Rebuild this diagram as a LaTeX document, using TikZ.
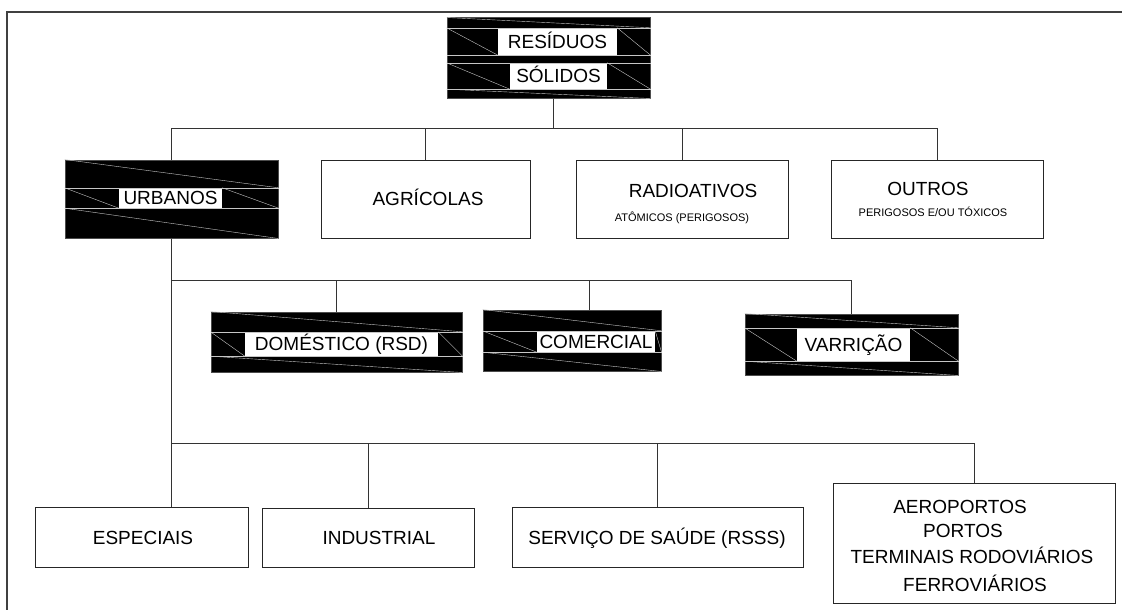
\documentclass[tikz,border=0pt]{standalone}
\usepackage{fontspec}
\setmainfont{Liberation Sans}
\newcommand\bandtex[2]{%
 \draw[tex] (#1.west |- #2.north) -- (#1.east |- #2.north);
 \draw[tex] (#1.west |- #2.south) -- (#1.east |- #2.south);
 \draw[tex] (#1.west |- #2.north) -- (#2.south west);
 \draw[tex] (#2.north east) -- (#1.east |- #2.south);}
\begin{document}
\begin{tikzpicture}[x=1pt,y=-1pt,
 box/.style={draw=black!85,line width=1pt,inner sep=0pt},
 blk/.style={draw=black!70,fill=black,line width=1pt,inner sep=0pt},
 lab/.style={fill=white,inner sep=0pt,text height=13.6pt,text depth=0pt,font=\fontsize{19}{22}\selectfont},
 txt/.style={inner sep=0pt,text height=13.6pt,text depth=0pt,font=\fontsize{19}{22}\selectfont},
 small/.style={inner sep=0pt,text height=7.9pt,text depth=0pt,font=\fontsize{11}{13}\selectfont},
 conn/.style={draw=black!80,line width=0.9pt},
 tex/.style={draw=gray!45,line width=0.4pt}]
\useasboundingbox (0,0) rectangle (1122,610);
\draw[line width=1.5pt,black!75] (7,610) -- (7,12) -- (1122,12);

% top box
\node[blk,minimum width=203pt,minimum height=80pt] (top) at (548.5,58) {};
\node[lab,minimum width=119pt,minimum height=27pt] (l1) at (557.5,41.5) {RESÍDUOS};
\node[lab,minimum width=97pt,minimum height=26pt] (l2) at (558.5,76) {SÓLIDOS};
\bandtex{top}{l1}
\bandtex{top}{l2}
\draw[tex] (top.north west) -- (top.east |- l1.north);
\draw[tex] (top.west |- l2.south) -- (top.south east);

% level 1
\node[blk,minimum width=213pt,minimum height=78pt] (urb) at (171.5,199) {};
\node[lab,minimum width=103pt,minimum height=20pt] (ul) at (170.5,198) {URBANOS};
\bandtex{urb}{ul}
\draw[tex] (urb.north west) -- (urb.east |- ul.north);
\draw[tex] (urb.west |- ul.south) -- (urb.south east);

\node[box,minimum width=209pt,minimum height=78pt] (agr) at (425.5,199) {};
\node[txt] (agrt) at (428,199) {AGRÍCOLAS};

\node[box,minimum width=212pt,minimum height=78pt] (rad) at (682,199) {};
\node[txt] (radt) at (693,191) {RADIOATIVOS};
\node[small] (rads) at (682,218) {ATÔMICOS (PERIGOSOS)};

\node[box,minimum width=212pt,minimum height=78pt] (out) at (937,199) {};
\node[txt] (outt) at (928,189) {OUTROS};
\node[small] (outs) at (933,213) {PERIGOSOS E/OU TÓXICOS};

% level 2
\node[blk,minimum width=251pt,minimum height=60pt] (dom) at (336.5,342) {};
\node[lab,minimum width=193pt,minimum height=24pt] (dl) at (341.5,344) {DOMÉSTICO (RSD)};
\bandtex{dom}{dl}
\draw[tex] (dom.north west) -- (dom.east |- dl.north);
\draw[tex] (dom.west |- dl.south) -- (dom.south east);

\node[blk,minimum width=178pt,minimum height=61pt] (com) at (572,340.5) {};
\node[lab,minimum width=118pt,minimum height=21pt] (cl) at (596,341.5) {COMERCIAL};
\bandtex{com}{cl}
\draw[tex] (com.north west) -- (com.east |- cl.north);
\draw[tex] (com.west |- cl.south) -- (com.south east);

\node[blk,minimum width=213pt,minimum height=61pt] (var) at (851.5,344.5) {};
\node[lab,minimum width=113pt,minimum height=33pt] (vl) at (853.5,344.5) {VARRIÇÃO};
\bandtex{var}{vl}
\draw[tex] (var.north west) -- (var.east |- vl.north);
\draw[tex] (var.west |- vl.south) -- (var.south east);

% level 3
\node[box,minimum width=213pt,minimum height=60pt] (esp) at (141.5,537) {};
\node[txt] (espt) at (143,538) {ESPECIAIS};
\node[box,minimum width=212pt,minimum height=59pt] (ind) at (368,537.5) {};
\node[txt] (indt) at (379,538) {INDUSTRIAL};
\node[box,minimum width=291pt,minimum height=60pt] (ser) at (657.5,537) {};
\node[txt] (sert) at (657,538) {SERVIÇO DE SAÚDE (RSSS)};
\node[box,minimum width=282pt,minimum height=120pt] (aer) at (974,543) {};
\node[txt] (a1) at (960,507) {AEROPORTOS};
\node[txt] (a2) at (963,531) {PORTOS};
\node[txt] (a3) at (972,557) {TERMINAIS RODOVIÁRIOS};
\node[txt] (a4) at (975,585) {FERROVIÁRIOS};

% connectors
\coordinate (bA) at (553,128);
\coordinate (bB) at (174,280);
\coordinate (bC) at (174,443);
\coordinate (cm) at (589,280);
\draw[conn] (bA |- top.south) -- (bA);
\draw[conn] (urb.north |- bA) -- (out.north |- bA);
\foreach \n in {urb,agr,rad,out} \draw[conn] (\n.north |- bA) -- (\n.north);
\draw[conn] (urb.south) -- (urb.south |- esp.north);
\draw[conn] (urb.south |- bB) -- (var.north |- bB);
\foreach \n in {dom,var} \draw[conn] (\n.north |- bB) -- (\n.north);
\draw[conn] (cm) -- (cm |- com.north);
\draw[conn] (urb.south |- bC) -- (aer.north |- bC);
\foreach \n in {ind,ser,aer} \draw[conn] (\n.north |- bC) -- (\n.north);
\end{tikzpicture}
\end{document}
